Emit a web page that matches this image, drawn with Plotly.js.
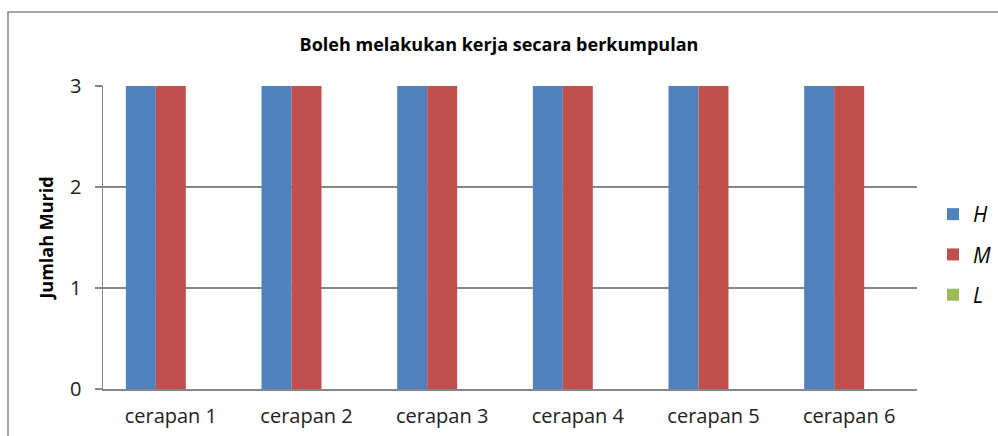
<!DOCTYPE html>
<html><head><meta charset="utf-8">
<script src="https://cdn.plot.ly/plotly-3.0.1.min.js"></script>
<style>html,body{margin:0;padding:0;background:#fff}#chart{width:998px;height:436px}</style>
</head><body><div id="chart"></div>
<script>
const categories = ["cerapan 1","cerapan 2","cerapan 3","cerapan 4","cerapan 5","cerapan 6"];
const seriesNames = ["H","M","L"];
const valuesH = [3,3,3,3,3,3];
const valuesM = [3,3,3,3,3,3];
const valuesL = [0,0,0,0,0,0];
const colors = ["#4F81BD","#C0504D","#9BBB59"];
const font = "Open Sans, Noto Sans, sans-serif";

const data = [valuesH, valuesM, valuesL].map((v,i)=>({
  type:'bar', x:categories, y:v, name:'<i>'+seriesNames[i]+'</i>',
  marker:{color:colors[i]}, legendgroup:'g'+i, hoverinfo:'skip'
}));

const L=103, R=917, T=86, B=389;
const pw=R-L, ph=B-T;
const px = x => (x-L)/pw;
const py = y => (B-y)/ph;

const layout = {
  width:998, height:436,
  margin:{l:L, r:998-R, t:T, b:436-B, pad:0, autoexpand:false},
  paper_bgcolor:'#fff', plot_bgcolor:'#fff',
  barmode:'group', bargap:0.337, bargroupgap:0,
  title:{text:'<b>Boleh melakukan kerja secara berkumpulan</b>', font:{family:font, size:18, color:'#000'}, x:0.5, xanchor:'center', y:1-45/436, yanchor:'middle', automargin:false},
  xaxis:{showline:true, linecolor:'#868686', linewidth:1.5, ticks:'', showgrid:false, tickfont:{family:font, size:20, color:'#222'}, ticklabelstandoff:8, automargin:false, fixedrange:true},
  yaxis:{range:[0,3], dtick:1, showline:true, linecolor:'#868686', linewidth:1.5, ticks:'outside', ticklen:7, tickcolor:'#868686', tickwidth:1.5,
    showgrid:true, gridcolor:'#868686', gridwidth:1.5, zeroline:false, tickfont:{family:font, size:20, color:'#222'}, ticklabelstandoff:9, automargin:false,
    title:{text:'<b>Jumlah Murid</b>', font:{family:font, size:18, color:'#000'}, standoff:12}, fixedrange:true},
  legend:{x:px(933), xanchor:'left', y:py(194), yanchor:'top', font:{family:font, size:21, color:'#000'}, traceorder:'grouped', tracegroupgap:10, itemwidth:30, bgcolor:'rgba(0,0,0,0)'},
  showlegend:true,
  shapes:[{type:'rect', xref:'paper', yref:'paper', x0:px(8), x1:px(1005), y0:py(445), y1:py(12), line:{color:'#868686', width:1.5}, fillcolor:'rgba(0,0,0,0)', layer:'below'}]
};
Plotly.newPlot('chart', data, layout, {displayModeBar:false, staticPlot:true});
</script></body></html>
